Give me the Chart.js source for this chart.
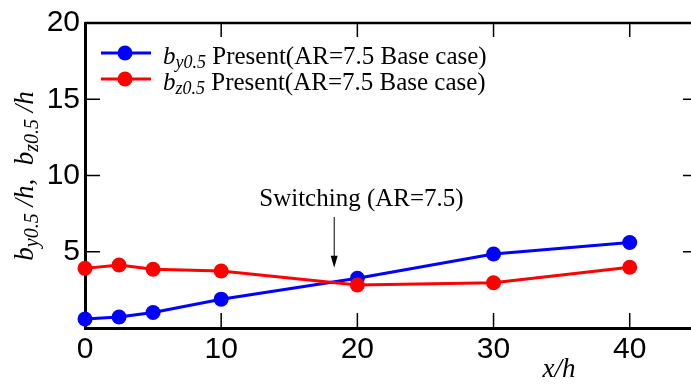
<!DOCTYPE html>
<html>
<head>
<meta charset="utf-8">
<script src="https://cdn.jsdelivr.net/npm/chart.js@4/dist/chart.umd.min.js"></script>
<style>
  html, body { margin: 0; padding: 0; background: #fff; overflow: hidden; }
  #wrap { width: 691px; height: 385px; }
</style>
</head>
<body>
<div id="wrap"><canvas id="myChart"></canvas></div>
<script>
// x/h positions of the measured stations
const xPos = [0, 2.5, 5, 10, 20, 30, 40];
// b_y0.5/h and b_z0.5/h (AR=7.5 base case)
const byValues = [0.59, 0.72, 1.02, 1.89, 3.26, 4.85, 5.61];
const bzValues = [3.91, 4.13, 3.85, 3.74, 2.82, 2.97, 3.98];

const xTicks = [0, 10, 20, 30, 40];
const yTicks = [5, 10, 15, 20];

// "Switching" note, in data units
const noteText = 'Switching (AR=7.5)';
const notePos = [20.3, 7.98];
const arrowX = 18.3;
const arrowY = [7.28, 3.95];

const SERIF = "'Liberation Serif', 'Times New Roman', serif";
const SANS = "'Liberation Sans', Arial, sans-serif";

function drawParts(ctx, x, y, parts, align) {
    let w = 0;
    parts.forEach(p => { ctx.font = p.font; p.w = ctx.measureText(p.t).width; w += p.w; });
    let cx = align === 'center' ? x - w / 2 : x;
    ctx.textAlign = 'left';
    ctx.textBaseline = 'alphabetic';
    parts.forEach(p => {
        ctx.font = p.font;
        ctx.fillText(p.t, cx, y + (p.dy || 0));
        cx += p.w;
    });
}

const frame = {
    id: 'frame',
    afterDraw(chart) {
        const ctx = chart.ctx;
        const a = chart.chartArea;
        const xs = chart.scales.x, ys = chart.scales.y;
        ctx.save();
        ctx.strokeStyle = '#000';
        ctx.fillStyle = '#000';

        // top edge
        ctx.lineWidth = 2.5;
        ctx.beginPath();
        ctx.moveTo(a.left, a.top);
        ctx.lineTo(a.right + 10, a.top);
        ctx.stroke();

        // inward ticks
        ctx.lineWidth = 1.5;
        xTicks.slice(1).forEach(v => {
            const px = xs.getPixelForValue(v);
            ctx.beginPath();
            ctx.moveTo(px, a.bottom); ctx.lineTo(px, a.bottom - 15);
            ctx.moveTo(px, a.top); ctx.lineTo(px, a.top + 14);
            ctx.stroke();
        });
        yTicks.slice(0, -1).forEach(v => {
            const py = ys.getPixelForValue(v);
            ctx.beginPath();
            ctx.moveTo(a.left, py); ctx.lineTo(a.left + 15, py);
            ctx.moveTo(a.right + 7, py); ctx.lineTo(a.right - 8, py);
            ctx.stroke();
        });

        // legend
        const rows = [
            { color: '#0000ff', sub: 'y0.5', y: 53 },
            { color: '#ff0000', sub: 'z0.5', y: 79 }
        ];
        rows.forEach(r => {
            ctx.strokeStyle = r.color;
            ctx.fillStyle = r.color;
            ctx.lineWidth = 3;
            ctx.beginPath();
            ctx.moveTo(101, r.y); ctx.lineTo(151, r.y);
            ctx.stroke();
            ctx.beginPath();
            ctx.arc(125, r.y, 7.5, 0, Math.PI * 2);
            ctx.fill();
            ctx.fillStyle = '#000';
            drawParts(ctx, 163, r.y + 11, [
                { t: 'b', font: 'italic 25px ' + SERIF },
                { t: r.sub, font: 'italic 18px ' + SERIF, dy: 4 },
                { t: ' Present(AR=7.5 Base case)', font: '25px ' + SERIF }
            ]);
        });

        // switching note and arrow
        ctx.fillStyle = '#000';
        ctx.strokeStyle = '#000';
        ctx.font = '25px ' + SERIF;
        ctx.textAlign = 'center';
        ctx.fillText(noteText, xs.getPixelForValue(notePos[0]), ys.getPixelForValue(notePos[1]));
        const ax = xs.getPixelForValue(arrowX);
        const ay0 = ys.getPixelForValue(arrowY[0]);
        const ay1 = ys.getPixelForValue(arrowY[1]);
        ctx.lineWidth = 1;
        ctx.beginPath();
        ctx.moveTo(ax, ay0); ctx.lineTo(ax, ay1 - 10);
        ctx.stroke();
        ctx.beginPath();
        ctx.moveTo(ax - 3.5, ay1 - 12); ctx.lineTo(ax + 3.5, ay1 - 12); ctx.lineTo(ax, ay1);
        ctx.closePath();
        ctx.fill();

        // axis titles
        drawParts(ctx, 559, 377, [
            { t: 'x/h', font: 'italic 27px ' + SERIF }
        ], 'center');

        ctx.translate(33, 176);
        ctx.rotate(-Math.PI / 2);
        drawParts(ctx, 0, 0, [
            { t: 'b', font: 'italic 27px ' + SERIF },
            { t: 'y0.5', font: 'italic 20px ' + SERIF, dy: 5 },
            { t: ' /h,  ', font: 'italic 27px ' + SERIF },
            { t: 'b', font: 'italic 27px ' + SERIF },
            { t: 'z0.5', font: 'italic 20px ' + SERIF, dy: 5 },
            { t: ' /h', font: 'italic 27px ' + SERIF }
        ], 'center');
        ctx.restore();
    }
};

const data = {
    labels: xPos,
    datasets: [{
        label: 'by0.5 Present(AR=7.5 Base case)',
        data: xPos.map((x, i) => ({ x: x, y: byValues[i] })),
        borderColor: '#0000ff',
        backgroundColor: '#0000ff',
        order: 1
    }, {
        label: 'bz0.5 Present(AR=7.5 Base case)',
        data: xPos.map((x, i) => ({ x: x, y: bzValues[i] })),
        borderColor: '#ff0000',
        backgroundColor: '#ff0000',
        order: 0
    }]
};

const config = {
    type: 'line',
    data,
    options: {
        responsive: true,
        maintainAspectRatio: false,
        animation: false,
        layout: { padding: { top: 23, left: 0, right: 0, bottom: 0 }, autoPadding: false },
        elements: {
            line: { borderWidth: 3, tension: 0 },
            point: { radius: 7.5, borderWidth: 0, hoverRadius: 7.5 }
        },
        datasets: { line: { clip: false } },
        plugins: {
            legend: { display: false },
            tooltip: { enabled: false }
        },
        scales: {
            x: {
                type: 'linear',
                min: 0,
                max: 44.5,
                afterBuildTicks: (scale) => { scale.ticks = xTicks.map(v => ({ value: v })); },
                afterFit: (scale) => { scale.height = 57; },
                grid: { display: false, drawTicks: false },
                border: { display: true, color: '#000', width: 3 },
                ticks: { color: '#000', padding: 4, font: { family: SANS, size: 30 }, maxRotation: 0 }
            },
            y: {
                min: 0,
                max: 20,
                afterBuildTicks: (scale) => { scale.ticks = yTicks.map(v => ({ value: v })); },
                afterFit: (scale) => { scale.width = 85; },
                grid: { display: false, drawTicks: false },
                border: { display: true, color: '#000', width: 3 },
                ticks: { color: '#000', padding: 5, font: { family: SANS, size: 30 } }
            }
        }
    },
    plugins: [frame]
};

var myChart = new Chart(
    document.getElementById('myChart'),
    config
);
</script>
</body>
</html>
